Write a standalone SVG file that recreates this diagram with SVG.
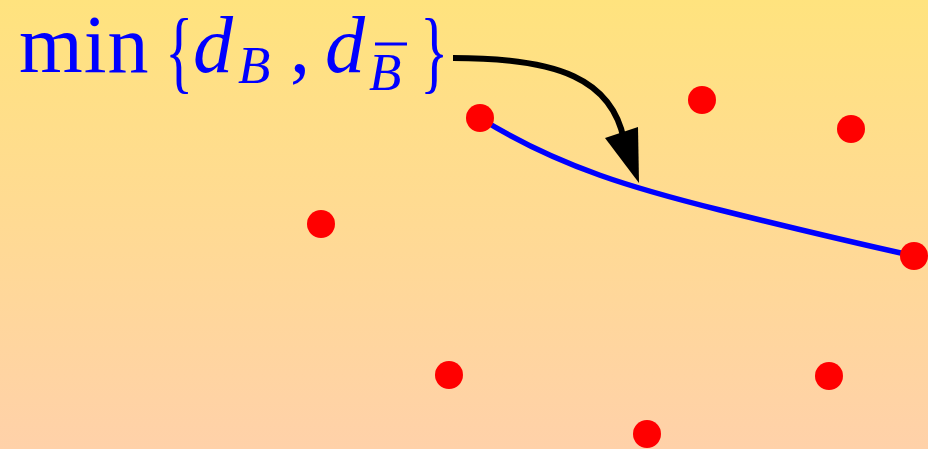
<svg xmlns="http://www.w3.org/2000/svg" width="928" height="449" viewBox="0 0 928 449">
<defs>
<linearGradient id="bg" x1="0" y1="0" x2="0" y2="1">
<stop offset="0" stop-color="#FFE37E"/>
<stop offset="1" stop-color="#FFD1A9"/>
</linearGradient>
<style>
.dot{fill:#FF0000}
.m{font-family:"Liberation Serif","DejaVu Serif",serif;fill:#0000FF}
.it{font-style:italic}
</style>
</defs>
<rect width="928" height="449" fill="url(#bg)"/>
<g id="connectors">
<path id="curve" d="M480,118 C560,168 640,190 720,210 S860,244 914,256" fill="none" stroke="#0000FF" stroke-width="5.5"/>
<path id="arrow" d="M453,58 C560,58 612,80 624,140" fill="none" stroke="#000" stroke-width="6"/>
<polygon points="605,138 638,127 639,183" fill="#000"/>
</g>
<g id="label">
<text class="m" x="19" y="72" font-size="82" letter-spacing="1">min</text>
<text class="m" transform="translate(165,82) scale(0.64,1)" font-size="92">{</text>
<text class="m it" x="193" y="72" font-size="80">d</text>
<text class="m it" x="238" y="83" font-size="53">B</text>
<text class="m" x="290" y="72" font-size="80">,</text>
<text class="m it" x="325" y="72" font-size="80">d</text>
<text class="m it" x="369" y="90" font-size="53">B</text>
<line x1="375" y1="44" x2="407" y2="44" stroke="#0000FF" stroke-width="3"/>
<text class="m" transform="translate(420,82) scale(0.64,1)" font-size="92">}</text>
</g>
<g id="nodes">
<circle id="p1" class="dot" cx="480" cy="118" r="14"/>
<circle id="p2" class="dot" cx="702" cy="100" r="14"/>
<circle id="p3" class="dot" cx="851" cy="129" r="14"/>
<circle id="p4" class="dot" cx="321" cy="224" r="14"/>
<circle id="p5" class="dot" cx="914" cy="256" r="14"/>
<circle id="p6" class="dot" cx="449" cy="375" r="14"/>
<circle id="p7" class="dot" cx="829" cy="376" r="14"/>
<circle id="p8" class="dot" cx="647" cy="434" r="14"/>
</g>
</svg>
